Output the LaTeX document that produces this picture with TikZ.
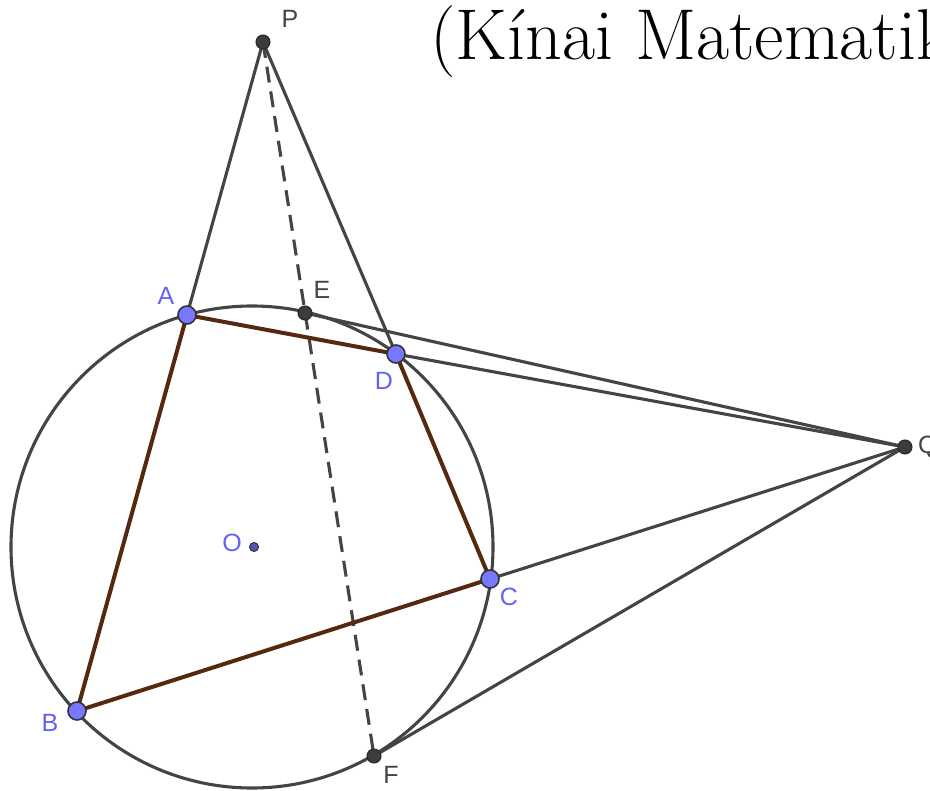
\documentclass[tikz,border=0pt]{standalone}
\usepackage{fontspec}
\newfontfamily\lab{Liberation Sans}
\definecolor{geogrey}{RGB}{68,68,68}
\definecolor{quadbrown}{RGB}{85,40,15}
\definecolor{ptblue}{RGB}{120,120,255}
\definecolor{labblue}{RGB}{100,100,240}
\definecolor{ptdark}{RGB}{60,60,60}
\begin{document}
\begin{tikzpicture}[x=1pt,y=-1pt,
  geo/.style={draw=geogrey,line width=3.1pt},
  dashline/.style={geo,dash pattern=on 16pt off 9pt},
  quad/.style={draw=quadbrown,line width=4pt,line join=round},
  bluept/.style={circle,inner sep=0pt,minimum size=18pt,fill=ptblue,draw=black!80,line width=1.6pt},
  smallpt/.style={circle,inner sep=0pt,minimum size=9pt,fill=ptblue!70!black,draw=black!80,line width=1pt},
  darkpt/.style={circle,inner sep=0pt,minimum size=14pt,fill=ptdark,draw=black!85,line width=1pt},
  bluelab/.style={text=labblue,font=\lab\fontsize{25}{25}\selectfont,inner sep=0pt},
  darklab/.style={text=geogrey,font=\lab\fontsize{25}{25}\selectfont,inner sep=0pt}]
\useasboundingbox (0,0) rectangle (930,791);
\clip (0,0) rectangle (930,791);
\fill[white] (0,0) rectangle (930,791);
% coordinates
\coordinate (P) at (263,42);
\coordinate (A) at (187,315);
\coordinate (E) at (305,313);
\coordinate (D) at (396,354);
\coordinate (Q) at (905,447);
\coordinate (O) at (252,547);
\coordinate (C) at (490,579);
\coordinate (B) at (77,711);
\coordinate (F) at (374,756);
% circle
\draw[geo] (O) circle[radius=241pt];
% lines
\draw[geo] (P) -- (A);
\draw[geo] (P) -- (D);
\draw[dashline] (P) -- (F);
\draw[geo] (E) -- (Q);
\draw[geo] (D) -- (Q);
\draw[geo] (C) -- (Q);
\draw[geo] (F) -- (Q);
% quadrilateral
\draw[quad] (A) -- (D) -- (C) -- (B) -- cycle;
% points
\node[darkpt] (nP) at (P) {};
\node[darkpt] (nE) at (E) {};
\node[darkpt] (nF) at (F) {};
\node[darkpt] (nQ) at (Q) {};
\node[smallpt] (nO) at (254,547) {};
\node[bluept] (nA) at (A) {};
\node[bluept] (nD) at (D) {};
\node[bluept] (nC) at (C) {};
\node[bluept] (nB) at (B) {};
% labels
\node[darklab] (lP) at (290,19) {P};
\node[darklab] (lE) at (322,290) {E};
\node[darklab] (lF) at (391,775) {F};
\node[darklab,anchor=west] (lQ) at (918,447) {Q};
\node[bluelab] (lA) at (166,296) {A};
\node[bluelab] (lD) at (384,381) {D};
\node[bluelab] (lO) at (232,543) {O};
\node[bluelab] (lC) at (509,597) {C};
\node[bluelab] (lB) at (50,723) {B};
% title
\node[anchor=base west,inner sep=0pt,font=\fontsize{72}{74}\selectfont] (title) at (430,60) {(Kínai Matematik};
\end{tikzpicture}
\end{document}
